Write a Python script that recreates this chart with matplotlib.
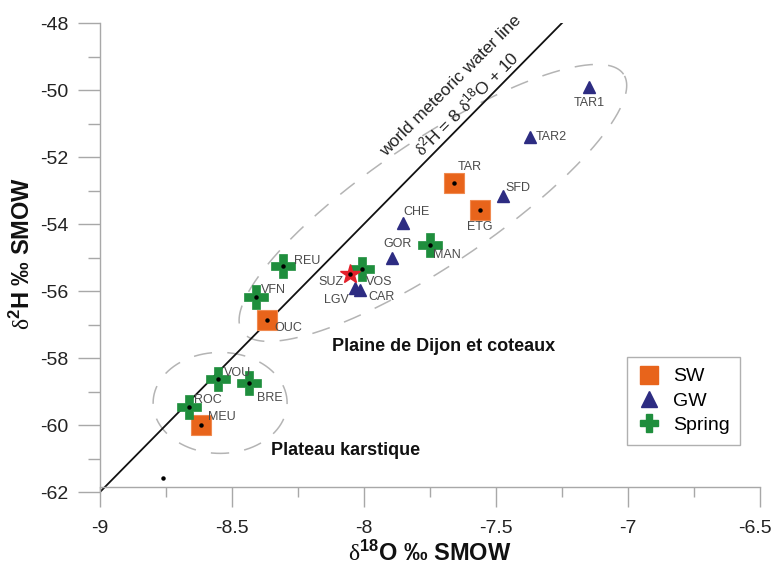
import numpy as np
import matplotlib
matplotlib.use("Agg")
import matplotlib.pyplot as plt
from matplotlib.lines import Line2D
from matplotlib.transforms import ScaledTranslation

plt.rcParams['font.family'] = ['Liberation Sans', 'DejaVu Sans']
plt.rcParams['mathtext.fontset'] = 'custom'
plt.rcParams['mathtext.rm'] = 'Liberation Serif'
plt.rcParams['mathtext.sf'] = 'Liberation Sans'
plt.rcParams['mathtext.bf'] = 'Liberation Sans:bold'
plt.rcParams['mathtext.it'] = 'Liberation Sans:italic'

# ---- data ----
sw_names = ["TAR", "ETG", "OUC", "MEU"]
sw_x = [-7.658, -7.562, -8.369, -8.619]
sw_y = [-52.77, -53.59, -56.87, -60.01]

gw_names = ["TAR1", "TAR2", "SFD", "CHE", "GOR", "LGV", "CAR"]
gw_x = [-7.147, -7.371, -7.472, -7.851, -7.895, -8.034, -8.015]
gw_y = [-49.92, -51.39, -53.16, -53.96, -55.00, -55.92, -55.97]

sp_names = ["REU", "VFN", "VOS", "MAN", "VOU", "BRE", "ROC"]
sp_x = [-8.306, -8.409, -8.009, -7.750, -8.552, -8.434, -8.662]
sp_y = [-55.25, -56.19, -55.34, -54.63, -58.64, -58.76, -59.45]

star_name = "SUZ"
star_x = [-8.053]
star_y = [-55.50]

dot_x = [-8.763]
dot_y = [-61.59]

mwl_x = [-9.0, -7.25]

x_ticks = [-9.0, -8.5, -8.0, -7.5, -7.0, -6.5]
x_ticklabels = ["-9", "-8.5", "-8", "-7.5", "-7", "-6.5"]
y_ticks = [-62, -60, -58, -56, -54, -52, -50, -48]
y_ticklabels = ["-62", "-60", "-58", "-56", "-54", "-52", "-50", "-48"]

# label offsets (pixels)
label_off = {
    "TAR": (15, 16), "ETG": (0, -17), "OUC": (22, -8), "MEU": (21, 8),
    "TAR1": (0, -16), "TAR2": (21, 0), "SFD": (15, 8), "CHE": (13, 11),
    "GOR": (6, 14), "LGV": (-19, -12), "CAR": (22, -7),
    "REU": (24, 5), "VFN": (17, 7), "VOS": (18, -13), "MAN": (17, -10),
    "VOU": (19, 6), "BRE": (20, -15), "ROC": (19, 7), "SUZ": (-19, -8),
}

c_sw = '#E8641B'
c_gw = '#2D2C82'
c_sp = '#1F8E3D'
c_star = '#E3202A'
grey = '#A8A8A8'

W, H = 775, 566
fig = plt.figure(figsize=(W / 100, H / 100), dpi=100)
ax = fig.add_axes([100 / W, 1 - 492 / H, 660 / W, 469 / H])
xlim = (-9.0, -6.5)
ylim = (-62.0, -48.0)
ax.set_xlim(*xlim)
ax.set_ylim(*ylim)

# spines / ticks
for s in ['top', 'right']:
    ax.spines[s].set_visible(False)
for s in ['left', 'bottom']:
    ax.spines[s].set_color(grey)
    ax.spines[s].set_linewidth(1.0)
ax.spines['bottom'].set_position(('data', -61.85))
ax.spines['left'].set_bounds(-62, -48)

ax.set_xticks(x_ticks)
ax.set_xticklabels(x_ticklabels)
ax.set_xticks(np.arange(-8.75, -6.5, 0.5), minor=True)
ax.set_yticks(y_ticks)
ax.set_yticklabels(y_ticklabels)
ax.set_yticks(np.arange(-61, -48, 2), minor=True)
ax.tick_params(axis='x', which='major', length=14.5, width=1, color=grey,
               labelsize=14, pad=9, labelcolor='#222222')
ax.tick_params(axis='x', which='minor', length=7.5, width=1, color=grey)
ax.tick_params(axis='y', which='major', length=16, width=1, color=grey,
               labelsize=14, pad=7, labelcolor='#222222')
ax.tick_params(axis='y', which='minor', length=9, width=1, color=grey)

# keep the last x tick label inside the figure
last = ax.get_xticklabels()[-1]
last.set_transform(last.get_transform() +
                   ScaledTranslation(-5 / 100, 0, fig.dpi_scale_trans))

fig.text(430 / W, 1 - 553 / H, r'$\mathrm{\delta}^{\mathbf{18}}$O ‰ SMOW',
         fontsize=17, fontweight='bold', color='#111111',
         ha='center', va='center')
fig.text(22 / W, 1 - 253 / H, r'$\mathrm{\delta}^{\mathbf{2}}$H ‰ SMOW',
         fontsize=17, fontweight='bold', color='#111111',
         ha='center', va='center', rotation=90)

# pixel scale helpers for dashed envelopes
sx = 660 / (xlim[1] - xlim[0])
sy = 469 / (ylim[1] - ylim[0])


def envelope(cx, cy, a_px, b_px, ang_deg):
    t = np.linspace(0, 2 * np.pi, 400)
    ang = np.deg2rad(ang_deg)
    px = a_px * np.cos(t) * np.cos(ang) - b_px * np.sin(t) * np.sin(ang)
    py = a_px * np.cos(t) * np.sin(ang) + b_px * np.sin(t) * np.cos(ang)
    ax.plot(cx + px / sx, cy + py / sy, color='#B4B4B4', lw=1.1,
            dashes=(12, 10), zorder=1)


envelope(-7.739, -53.37, 230, 62, 34)
envelope(-8.545, -59.34, 67, 50.5, 0)

# meteoric water line
mwl_y = [8 * v + 10 for v in mwl_x]
ax.plot(mwl_x, mwl_y, color='#111111', lw=1.3, zorder=2)

# markers
ax.plot(gw_x, gw_y, '^', ms=9, color=c_gw, mec=c_gw, ls='none', zorder=3)
ax.plot(sw_x, sw_y, 's', ms=14.5, color=c_sw, mec='#F08A50', mew=0.8,
        ls='none', zorder=4)
ax.plot(sp_x, sp_y, 'P', ms=17, color=c_sp, mec=c_sp, mew=0.5, ls='none',
        zorder=4)
ax.plot(star_x, star_y, '*', ms=15, color=c_star, mec=c_star, ls='none',
        zorder=5)
ax.plot(sw_x + sp_x + star_x + dot_x, sw_y + sp_y + star_y + dot_y, 'o', ms=2.2,
        color='black', ls='none', zorder=6)

# point labels
for names, xs, ys in [(sw_names, sw_x, sw_y), (gw_names, gw_x, gw_y),
                      (sp_names, sp_x, sp_y),
                      ([star_name], star_x, star_y)]:
    for n, x, y in zip(names, xs, ys):
        ax.annotate(n, (x, y), xytext=label_off[n], textcoords='offset pixels',
                    ha='center', va='center', fontsize=9, color='#4A4A4A',
                    zorder=7)

# line labels
ax.text(-7.670, -49.88, 'world meteoric water line', rotation=45,
        rotation_mode='anchor', ha='center', va='center', fontsize=12.5,
        color='#222222')
ax.text(-7.614, -50.38, r'$\mathrm{\delta}^{\mathsf{2}}$H = 8 $\mathrm{\delta}^{\mathsf{18}}$O + 10',
        rotation=45, rotation_mode='anchor', ha='center', va='center',
        fontsize=12.5, color='#222222')

# region labels
ax.text(-7.70, -57.67, 'Plaine de Dijon et coteaux', ha='center', va='center',
        fontsize=13, fontweight='bold', color='#111111')
ax.text(-8.068, -60.75, 'Plateau karstique', ha='center', va='center',
        fontsize=13, fontweight='bold', color='#111111')

# legend
handles = [
    Line2D([], [], marker='s', ms=13, color=c_sw, mec=c_sw, ls='none'),
    Line2D([], [], marker='^', ms=11, color=c_gw, mec=c_gw, ls='none'),
    Line2D([], [], marker='P', ms=13, color=c_sp, mec=c_sp, ls='none'),
]
leg = fig.legend(handles, ['SW', 'GW', 'Spring'], loc='upper left',
                 bbox_to_anchor=(627 / W, 1 - 357 / H), borderaxespad=0,
                 fontsize=14, frameon=True, fancybox=False, framealpha=1,
                 edgecolor='#B0B0B0', handlelength=1.2, handletextpad=0.6,
                 labelspacing=0.35, borderpad=0.55)
leg.get_frame().set_linewidth(1.0)

fig.savefig('out.png', dpi=100)
